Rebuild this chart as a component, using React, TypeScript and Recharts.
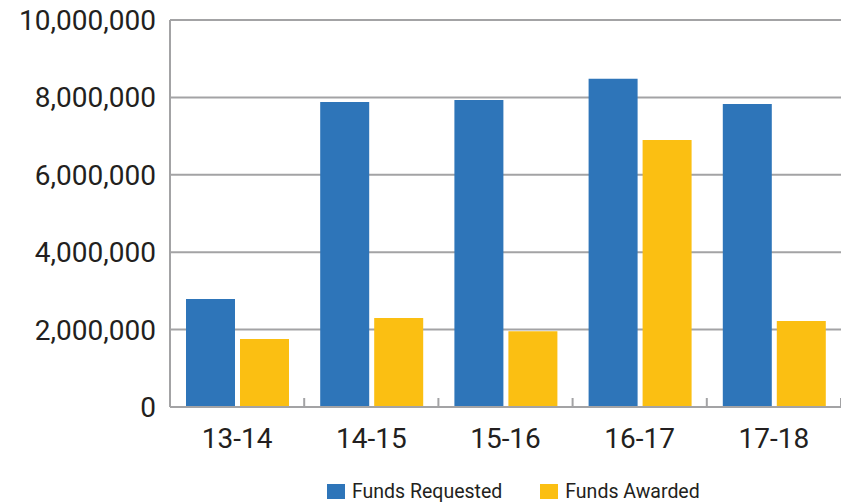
import React from "react";
import { BarChart, Bar, XAxis, YAxis, CartesianGrid, Legend } from "recharts";

const categories = ["13-14", "14-15", "15-16", "16-17", "17-18"];
const fundsRequested = [2790000, 7880000, 7930000, 8480000, 7830000];
const fundsAwarded = [1760000, 2300000, 1960000, 6900000, 2220000];
const yTicks = [0, 2000000, 4000000, 6000000, 8000000, 10000000];

const data = categories.map((c, i) => ({
  name: c,
  requested: fundsRequested[i],
  awarded: fundsAwarded[i],
}));

const BLUE = "#2E75B9";
const YELLOW = "#FBBF12";
const GRID = "#A3A3A5";
const TEXT = "#231F20";
const FONT = "Roboto, 'DejaVu Sans', sans-serif";

const fmt = (v: number) => v.toLocaleString("en-US");

const YTick = (props: any) => {
  const { x, y, payload } = props;
  return (
    <text x={x} y={y + 10} textAnchor="end" fontSize={28} fill={TEXT} fontFamily={FONT}>
      {fmt(payload.value)}
    </text>
  );
};

const XTick = (props: any) => {
  const { x, y, payload, index, visibleTicksCount } = props;
  const off = typeof payload.offset === "number" && payload.offset > 0 ? payload.offset : 67;
  const isLast = index === (visibleTicksCount ?? categories.length) - 1;
  return (
    <g>
      <line x1={x - off} x2={x - off} y1={y - 9} y2={y} stroke={GRID} strokeWidth={2} />
      {isLast && <line x1={x + off} x2={x + off} y1={y - 9} y2={y} stroke={GRID} strokeWidth={2} />}
      <text x={x} y={y + 41} textAnchor="middle" fontSize={28} fill={TEXT} fontFamily={FONT}>
        {payload.value}
      </text>
    </g>
  );
};

const LegendContent = () => (
  <div
    style={{
      display: "flex",
      justifyContent: "flex-start",
      alignItems: "center",
      height: 24,
      fontFamily: FONT,
      fontSize: 19.5,
      color: TEXT,
      paddingLeft: 327,
    }}
  >
    <span style={{ display: "inline-block", width: 18, height: 15, background: BLUE, marginRight: 7 }} />
    <span style={{ marginRight: 38 }}>Funds Requested</span>
    <span style={{ display: "inline-block", width: 18, height: 15, background: YELLOW, marginRight: 7 }} />
    <span>Funds Awarded</span>
  </div>
);

export default function App() {
  return (
    <div style={{ margin: "-8px 0 0 -8px", width: 849, height: 503, background: "#fff" }}>
      <BarChart
        width={849}
        height={503}
        data={data}
        margin={{ top: 20, right: 8, left: 0, bottom: 0 }}
        barGap={5}
      >
        <CartesianGrid vertical={false} stroke={GRID} strokeWidth={2} />
        <XAxis
          dataKey="name"
          height={72}
          tickLine={false}
          tickSize={0}
          tickMargin={0}
          axisLine={{ stroke: GRID, strokeWidth: 2 }}
          tick={<XTick />}
          interval={0}
        />
        <YAxis
          width={170}
          domain={[0, 10000000]}
          ticks={yTicks}
          tickLine={false}
          tickSize={0}
          tickMargin={14}
          axisLine={{ stroke: GRID, strokeWidth: 2 }}
          tick={<YTick />}
          interval={0}
        />
        <Legend verticalAlign="bottom" height={24} content={<LegendContent />} />
        <Bar dataKey="requested" name="Funds Requested" fill={BLUE} barSize={49} isAnimationActive={false} />
        <Bar dataKey="awarded" name="Funds Awarded" fill={YELLOW} barSize={49} isAnimationActive={false} />
      </BarChart>
    </div>
  );
}
